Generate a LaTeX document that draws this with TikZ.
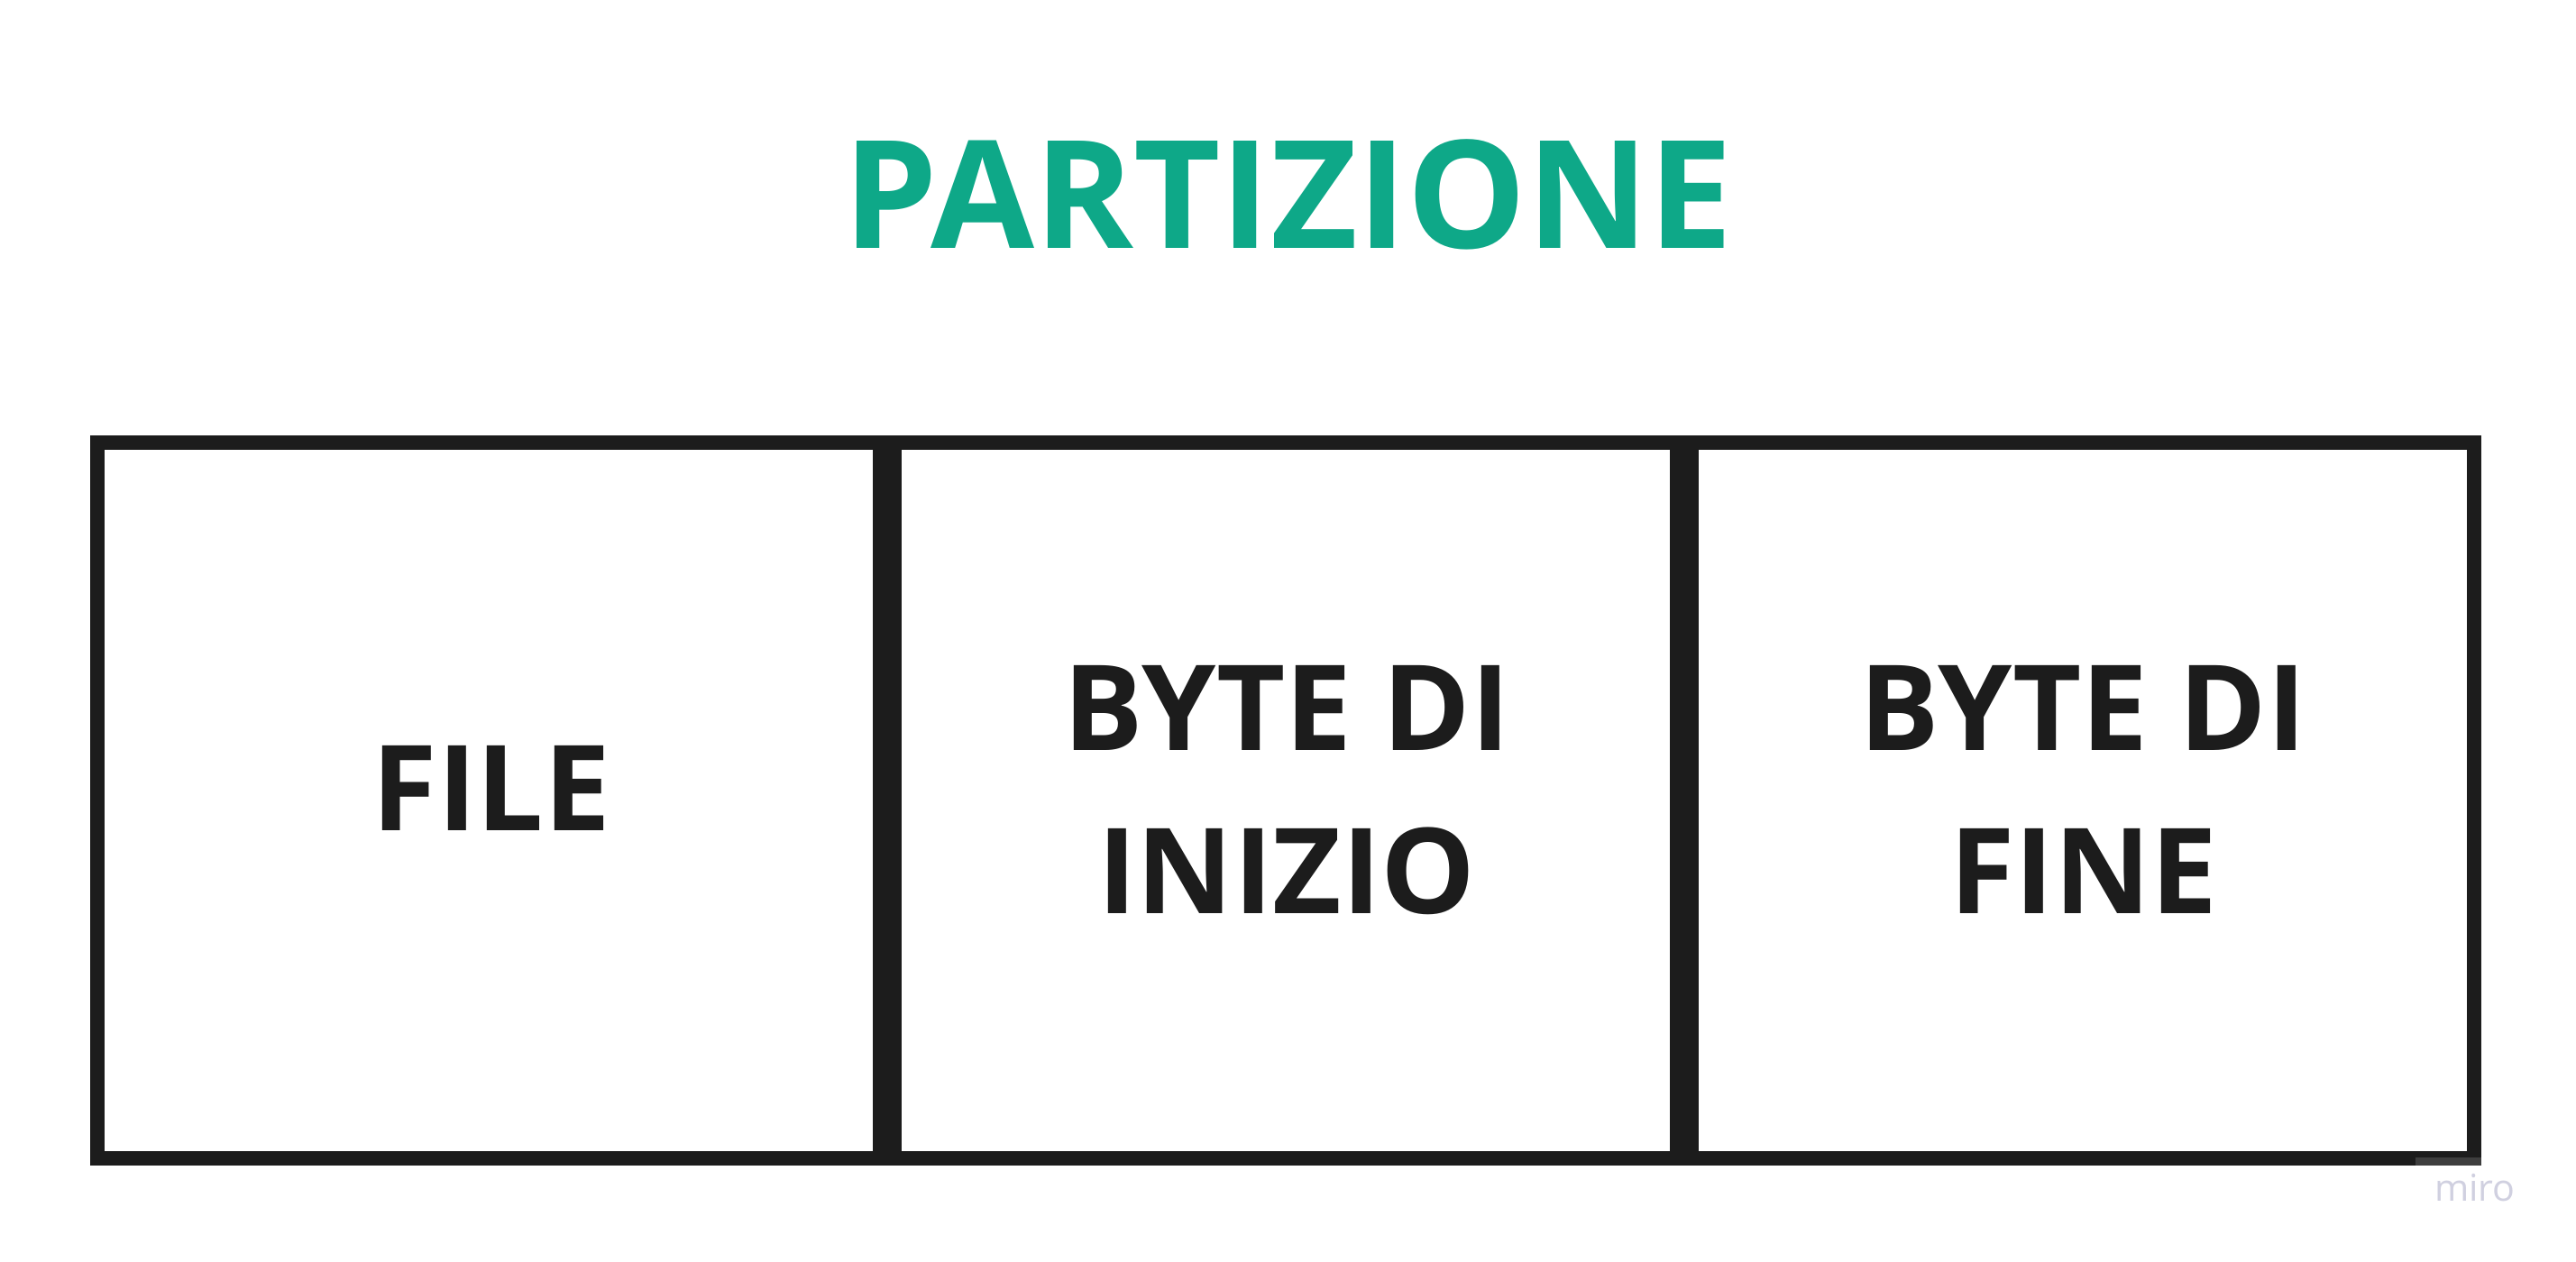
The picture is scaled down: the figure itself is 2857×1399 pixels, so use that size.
\documentclass[tikz,border=0pt]{standalone}
\usepackage{fontspec}
\setmainfont{Open Sans}
\definecolor{teal1}{RGB}{14,168,136}
\definecolor{ink}{RGB}{28,28,28}
\definecolor{mirogray}{RGB}{208,208,224}
\definecolor{barGray}{RGB}{62,62,62}
\begin{document}
\begin{tikzpicture}[x=0.01cm,y=-0.01cm,
  cell/.style={draw=ink,line width=0.165cm,rectangle,inner sep=0pt,outer sep=0pt,
    minimum width=8.675cm,minimum height=7.935cm},
  titletext/.style={text=teal1,font=\fontsize{47.4pt}{56pt}\selectfont\bfseries,inner sep=0pt,anchor=base},
  celltext/.style={text=ink,font=\fontsize{37.5pt}{51.5pt}\selectfont\bfseries,inner sep=0pt,anchor=base},
  wmark/.style={text=mirogray,font=\fontsize{11.7pt}{14pt}\selectfont,inner sep=0pt,anchor=base}
  ]
\useasboundingbox[fill=white] (0,0) rectangle (2857,1399);
\node[titletext] (title) at (1429,275) {PARTIZIONE};
\node[cell] (box1) at (542,888) {};
\node[cell] (box2) at (1426,888) {};
\node[cell] (box3) at (2310,888) {};
\node[celltext] (file) at (545,921.7) {FILE};
\node[celltext] (bi1) at (1427,832) {BYTE DI};
\node[celltext] (bi2) at (1427,1013.3) {INIZIO};
\node[celltext] (bf1) at (2310,832) {BYTE DI};
\node[celltext] (bf2) at (2311,1013.3) {FINE};
\fill[barGray] (2679,1284) rectangle (2752,1293);
\node[wmark] (miro) at (2745,1332) {miro};
\end{tikzpicture}
\end{document}
